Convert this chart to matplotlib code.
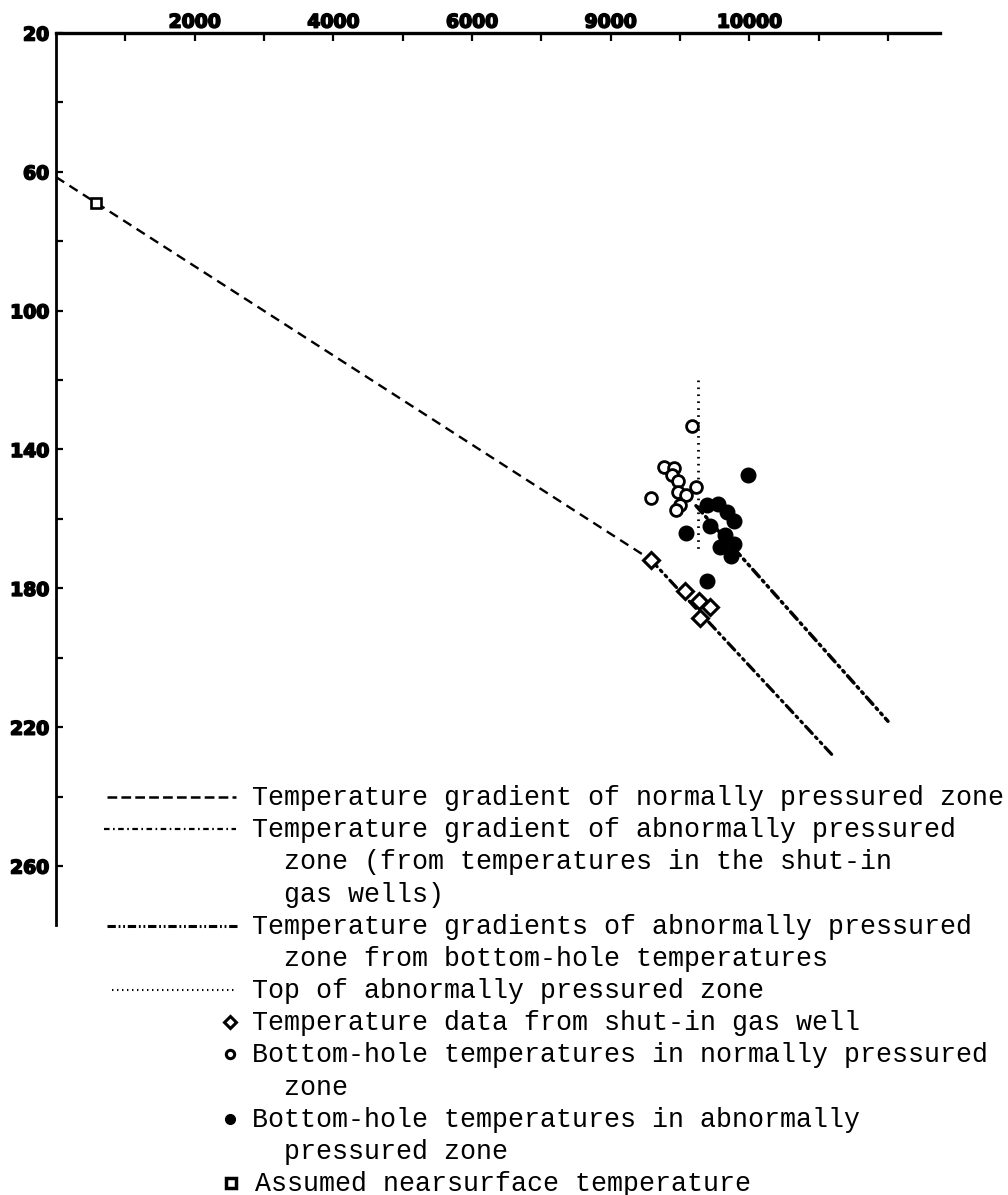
import matplotlib
matplotlib.use('Agg')
import matplotlib.pyplot as plt
import matplotlib.patheffects as pe

plt.rcParams['lines.scale_dashes'] = False

### data (depth in ft on top, temperature in F down the side) ###
normal_depth = [0, 8575]
normal_temp = [61.5, 171.7]

shutin_depth = [8575, 11200]
shutin_temp = [171.7, 228.1]

bhole_depth = [9230, 12000]
bhole_temp = [156.2, 218.3]

top_depth = [9260, 9260]
top_temp = [120, 169]

open_depth = [9178, 8772, 8917, 8880, 8975, 8967, 9087, 9228, 8575, 9000, 8942]
open_temp = [133.3, 144.9, 145.2, 147.3, 149.0, 152.2, 153.0, 150.9, 154.1, 155.9, 157.5]

filled_depth = [9975, 9387, 9555, 9677, 9783, 9435, 9087, 9642, 9772, 9580, 9729, 9387]
filled_temp = [147.3, 156.0, 155.6, 158.0, 160.6, 162.0, 164.0, 164.7, 167.2, 168.1, 170.7, 178.0]

diamond_depth = [8575, 9072, 9275, 9435, 9290]
diamond_temp = [171.7, 180.9, 183.6, 185.3, 188.6]

square_depth = [580]
square_temp = [69.0]

x_ticks = [1000, 2000, 3000, 4000, 5000, 6000, 7000, 8000, 9000, 10000, 11000, 12000]
x_labels = ['', '2000', '', '4000', '', '6000', '', '9000', '', '10000', '', '']
y_ticks = [20, 40, 60, 80, 100, 120, 140, 160, 180, 200, 220, 240, 260]
y_labels = ['20', '', '60', '', '100', '', '140', '', '180', '', '220', '', '260']

legend_text = [
    'Temperature gradient of normally pressured zone',
    'Temperature gradient of abnormally pressured',
    '  zone (from temperatures in the shut-in',
    '  gas wells)',
    'Temperature gradients of abnormally pressured',
    '  zone from bottom-hole temperatures',
    'Top of abnormally pressured zone',
    'Temperature data from shut-in gas well',
    'Bottom-hole temperatures in normally pressured',
    '  zone',
    'Bottom-hole temperatures in abnormally',
    '  pressured zone',
    'Assumed nearsurface temperature',
]

W, H = 1008, 1195
fig = plt.figure(figsize=(W / 100, H / 100), dpi=100)

# main axes
ax = fig.add_axes([56 / W, 1 - 925 / H, (940 - 56) / W, (925 - 33) / H])
ax.set_xlim(0, 12750)
ax.set_ylim(277, 20)

ax.plot(normal_depth, normal_temp, color='black', lw=1.7, dashes=(7, 4.5))
ax.plot(shutin_depth, shutin_temp, color='black', lw=2.3,
        dashes=(7, 3.5, 1.5, 3.5, 1.5, 3.5), dash_capstyle='round')
ax.plot(bhole_depth, bhole_temp, color='black', lw=2.5,
        dashes=(7, 3.5, 1.5, 3.5, 1.5, 3.5), dash_capstyle='round')
ax.plot(top_depth, top_temp, color='black', lw=2.0, dashes=(1.2, 3.8))

ax.plot(open_depth, open_temp, 'o', ms=8.5, mfc='white', mec='black', mew=2, ls='none')
ax.plot(filled_depth, filled_temp, 'o', ms=10.5, color='black', ls='none')
ax.plot(diamond_depth, diamond_temp, 'D', ms=8, mfc='white', mec='black', mew=2.2, ls='none')
ax.plot(square_depth, square_temp, 's', ms=6.5, mfc='white', mec='black', mew=1.9, ls='none')

ax.spines['bottom'].set_visible(False)
ax.spines['right'].set_visible(False)
ax.spines['top'].set_linewidth(2.4)
ax.spines['left'].set_linewidth(2.0)

ax.xaxis.tick_top()
ax.set_xticks(x_ticks)
ax.set_xticklabels(x_labels)
ax.set_yticks(y_ticks)
ax.set_yticklabels(y_labels)
ax.tick_params(axis='x', direction='in', length=6, width=1.6, pad=1, labelsize=13.5)
ax.tick_params(axis='y', direction='in', length=5, width=1.6, pad=5, labelsize=13.5)
for lab in ax.get_xticklabels() + ax.get_yticklabels():
    lab.set_fontweight('bold')
    lab.set_family('DejaVu Sans')
    lab.set_path_effects([pe.withStroke(linewidth=1.2, foreground='black')])

# legend drawn in pixel space on an overlay axes
lax = fig.add_axes([0, 0, 1, 1])
lax.set_xlim(0, W)
lax.set_ylim(H, 0)
lax.axis('off')
lax.patch.set_alpha(0)

row_y = [797 + 32.17 * i for i in range(len(legend_text))]
for i, t in enumerate(legend_text):
    x0 = 252 if i != 12 else 255
    lax.text(x0, row_y[i] + 8, t, fontsize=19.2, family=['Liberation Mono', 'DejaVu Sans Mono'],
             ha='left', va='baseline', color='black')

lax.plot([107, 236], [row_y[0], row_y[0]], color='black', lw=1.8, dashes=(7, 3))
lax.plot([104, 236], [row_y[1], row_y[1]], color='black', lw=1.6, dashes=(4, 2.5, 1.2, 2.5))
lax.plot([107, 239], [row_y[4], row_y[4]], color='black', lw=2.2,
         dashes=(6, 2, 1.3, 2, 1.3, 2))
lax.plot([112, 237], [row_y[6], row_y[6]], color='black', lw=1.5, dashes=(1, 2.6))
lax.plot([230], [row_y[7]], 'D', ms=6.5, mfc='white', mec='black', mew=2.2)
lax.plot([230], [row_y[8]], 'o', ms=6, mfc='white', mec='black', mew=2.2)
lax.plot([230], [row_y[10]], 'o', ms=7, color='black')
lax.plot([231], [row_y[12]], 's', ms=6.5, mfc='white', mec='black', mew=2.5)

fig.savefig('out.png', dpi=100)
